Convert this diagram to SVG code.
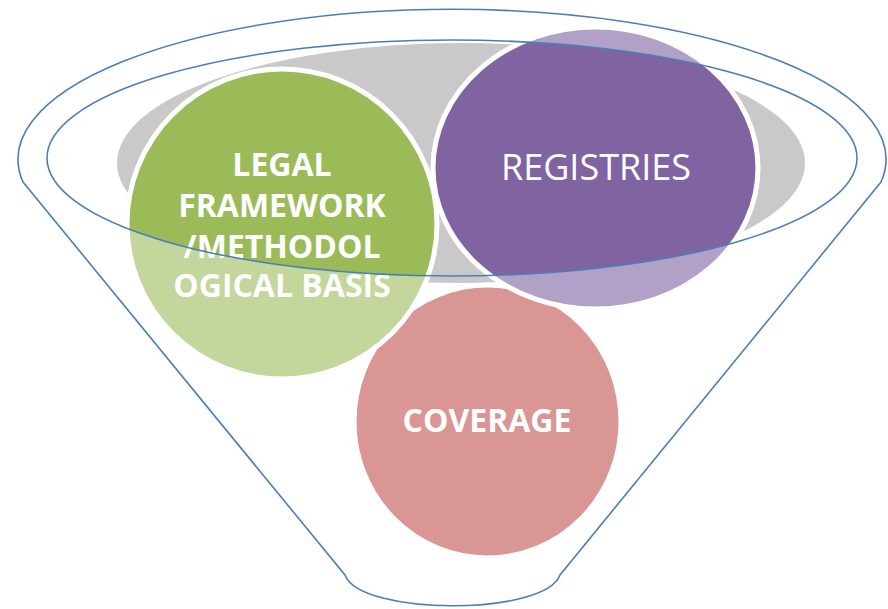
<svg xmlns="http://www.w3.org/2000/svg" width="888" height="609" viewBox="0 0 888 609">
  <style>
    .rim { fill: none; stroke: #4A7EBB; stroke-width: 1.6; }
    .ring { fill: none; stroke: #FFFFFF; stroke-width: 5; }
    .lbl { font-family: "Open Sans", "Liberation Sans", sans-serif; fill: #FFFFFF; text-anchor: middle; }
    .b { font-weight: bold; font-size: 32px; }
  </style>
  <defs>
    <clipPath id="rimClip">
      <ellipse cx="452" cy="158" rx="405" ry="118"/>
    </clipPath>
  </defs>
  <rect width="888" height="609" fill="#FFFFFF"/>
  <g id="bowl">
    <ellipse cx="461" cy="163" rx="344" ry="120" fill="#C9C9C9"/>
  </g>
  <g id="coverage">
    <ellipse cx="487.5" cy="421.5" rx="133.5" ry="136.5" fill="#D99694"/>
    <ellipse class="ring" cx="487.5" cy="421.5" rx="133.5" ry="136.5"/>
    <text class="lbl b" x="487" y="432">COVERAGE</text>
  </g>
  <g id="legal">
    <circle cx="282" cy="224" r="155" fill="#C3D69B"/>
    <circle cx="282" cy="224" r="155" fill="#9BBB59" clip-path="url(#rimClip)"/>
    <circle class="ring" cx="282" cy="224" r="155"/>
    <text class="lbl b" x="282" y="176">LEGAL</text>
    <text class="lbl b" x="282" y="217">FRAMEWORK</text>
    <text class="lbl b" x="282" y="258">/METHODOL</text>
    <text class="lbl b" x="282" y="297">OGICAL BASIS</text>
  </g>
  <g id="registries">
    <ellipse cx="595.5" cy="168" rx="162.5" ry="141" fill="#B2A1C7"/>
    <ellipse cx="595.5" cy="168" rx="162.5" ry="141" fill="#8064A2" clip-path="url(#rimClip)"/>
    <ellipse class="ring" cx="595.5" cy="168" rx="162.5" ry="141"/>
    <text class="lbl" x="596" y="180" font-size="36">REGISTRIES</text>
  </g>
  <g id="funnel">
    <path class="rim" d="M 23,182 A 434 150 0 1 1 881,182 L 560,575 C 545,616 360,616 345,575 Z"/>
    <ellipse class="rim" cx="452" cy="158" rx="405" ry="118"/>
  </g>
  <g id="connectors"/>
</svg>
